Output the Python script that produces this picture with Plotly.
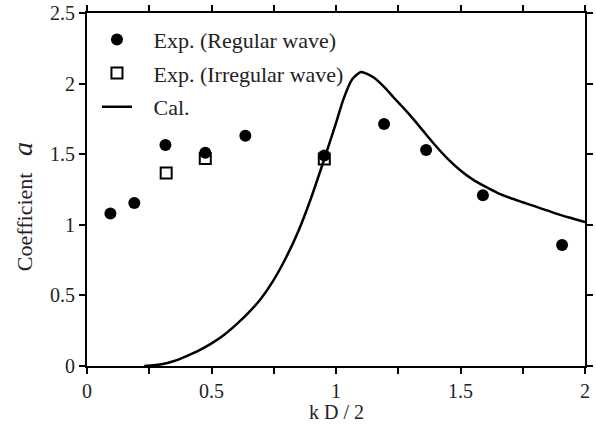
import plotly.graph_objects as go

reg_x = [0.094, 0.19, 0.315, 0.475, 0.636, 0.953, 1.193, 1.362, 1.59, 1.908]
reg_y = [1.08, 1.155, 1.565, 1.51, 1.63, 1.49, 1.714, 1.53, 1.21, 0.857]

irr_x = [0.318, 0.475, 0.953]
irr_y = [1.367, 1.47, 1.466]

cal_x = [0.23, 0.3, 0.35, 0.4, 0.45, 0.5, 0.55, 0.6, 0.65, 0.7, 0.75, 0.8, 0.85,
         0.9, 0.95, 1.0, 1.03, 1.065, 1.1, 1.15, 1.2, 1.23, 1.27, 1.31, 1.35, 1.4,
         1.45, 1.5, 1.55, 1.6, 1.65, 1.7, 1.75, 1.8, 1.85, 1.9, 1.95, 2.0]
cal_y = [0.0, 0.012, 0.035, 0.07, 0.11, 0.16, 0.22, 0.295, 0.38, 0.48, 0.61, 0.77, 0.96,
         1.19, 1.45, 1.72, 1.89, 2.03, 2.082, 2.045, 1.965, 1.905, 1.83, 1.75, 1.665, 1.56,
         1.465, 1.385, 1.32, 1.27, 1.225, 1.19, 1.16, 1.13, 1.10, 1.07, 1.045, 1.02]

x_tickvals = [0, 0.25, 0.5, 0.75, 1, 1.25, 1.5, 1.75, 2]
x_ticktext = ["0", "", "0.5", "", "1", "", "1.5", "", "2"]
y_tickvals = [0, 0.5, 1, 1.5, 2, 2.5]
y_ticktext = ["0", "0.5", "1", "1.5", "2", "2.5"]

FONT = "Liberation Serif"
TXT = "#222"
SP = "\u00a0\u00a0\u00a0"

fig = go.Figure()
fig.add_trace(go.Scatter(x=reg_x, y=reg_y, mode="markers", name=SP + "Exp. (Regular wave)",
                         legendgroup="a",
                         marker=dict(symbol="circle", size=12, color="black")))
fig.add_trace(go.Scatter(x=irr_x, y=irr_y, mode="markers", name=SP + "Exp. (Irregular wave)",
                         legendgroup="b",
                         marker=dict(symbol="square-open", size=11, color="black",
                                     line=dict(width=2, color="black"))))
fig.add_trace(go.Scatter(x=cal_x, y=cal_y, mode="lines", name=SP + "Cal.",
                         legendgroup="c", line_shape="spline",
                         line=dict(color="black", width=2.5, smoothing=0.6)))

axis_common = dict(showline=True, linecolor="black", linewidth=2, mirror="allticks",
                   ticks="outside", ticklen=6, tickwidth=2, tickcolor="black",
                   showgrid=False, zeroline=False, automargin=False,
                   tickfont=dict(family=FONT, size=20, color=TXT))

fig.update_xaxes(range=[0, 2], tickvals=x_tickvals, ticktext=x_ticktext, **axis_common)
fig.update_yaxes(range=[0, 2.5], tickvals=y_tickvals, ticktext=y_ticktext, **axis_common)

fig.add_annotation(text="k D / 2", xref="paper", yref="paper", x=0.5, y=-0.13,
                   xanchor="center", yanchor="middle", showarrow=False,
                   font=dict(family=FONT, size=20, color=TXT))
fig.add_annotation(text="Coefficient\u00a0\u00a0\u00a0<i><span style='font-size:28px'>a</span></i>",
                   xref="paper", yref="paper", x=-0.1305, y=0.45, textangle=-90,
                   xanchor="center", yanchor="middle", showarrow=False,
                   font=dict(family=FONT, size=22, color=TXT))

fig.update_layout(
    width=596, height=442,
    margin=dict(l=87, r=11, t=13, b=76),
    plot_bgcolor="white", paper_bgcolor="white",
    font=dict(family=FONT, size=20, color=TXT),
    legend=dict(x=0.02, y=0.984, xanchor="left", yanchor="top",
                bgcolor="rgba(0,0,0,0)", tracegroupgap=2,
                font=dict(family=FONT, size=22, color=TXT)),
)

fig.write_html("out.html")
